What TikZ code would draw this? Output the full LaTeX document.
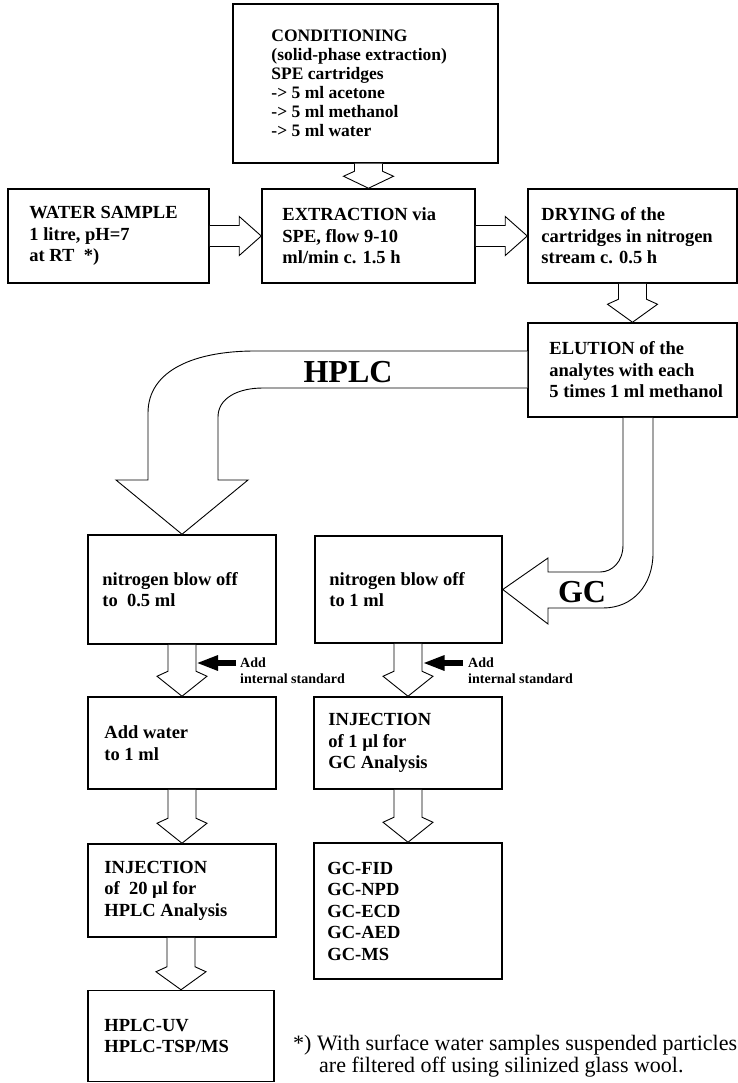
\documentclass[tikz,border=0pt]{standalone}
\usepackage{fontspec}
\setmainfont{Liberation Serif}
\usetikzlibrary{calc,arrows.meta}
\newcommand\blkdown[3][20]{\draw[blk] let \p1=(#2.south), \p2=(#3.north) in
  (\x2-14pt,\y1) -- (\x2-14pt,\y2+#1pt+5pt) -- (\x2-25pt,\y2+#1pt) -- (\x2,\y2)
  -- (\x2+25pt,\y2+#1pt) -- (\x2+14pt,\y2+#1pt+5pt) -- (\x2+14pt,\y1);}
\newcommand\blkright[2]{\draw[blk] let \p1=(#1.east), \p2=(#2.west) in
  (\x1,\y2+10.5pt) -- (\x2-22pt,\y2+10.5pt) -- (\x2-22pt,\y2+19.5pt) -- (\x2,\y2)
  -- (\x2-22pt,\y2-19.5pt) -- (\x2-22pt,\y2-10.5pt) -- (\x1,\y2-10.5pt);}
\begin{document}
\begin{tikzpicture}[x=1pt,y=-1pt,
  box/.style={draw, line width=1.5pt, inner sep=0pt},
  txt/.style={align=left, inner sep=0pt, anchor=west, font=\bfseries\fontsize{18.5}{21.5}\selectfont},
  ctxt/.style={txt, font=\bfseries\fontsize{17.5}{19}\selectfont},
  blk/.style={draw, fill=white, line width=0.9pt, line join=miter},
  big/.style={inner sep=0pt, font=\bfseries\fontsize{32}{32}\selectfont},
  addt/.style={align=left, inner sep=0pt, anchor=base west, font=\bfseries\fontsize{14}{16}\selectfont},
  addarr/.style={line width=6pt, -{Triangle[length=22pt,width=14pt]}},
  ]
\useasboundingbox (0,0) rectangle (738,1083);

% boxes
\node[box, minimum width=265pt, minimum height=159pt] (cond) at (365.5,83.5) {};
\node[box, minimum width=201pt, minimum height=94pt] (water) at (108.5,236) {};
\node[box, minimum width=213pt, minimum height=94pt] (ext) at (368.5,236) {};
\node[box, minimum width=209pt, minimum height=94pt] (dry) at (632.5,236) {};
\node[box, minimum width=209pt, minimum height=94pt] (elu) at (632.5,370) {};
\node[box, minimum width=188pt, minimum height=109pt] (lb) at (182,589.5) {};
\node[box, minimum width=187pt, minimum height=107pt] (rb) at (408.5,589.5) {};
\node[box, minimum width=188pt, minimum height=92pt] (addw) at (182,743) {};
\node[box, minimum width=188pt, minimum height=92pt] (gcinj) at (408,743) {};
\node[box, minimum width=188pt, minimum height=93pt] (hinj) at (182,890.5) {};
\node[box, minimum width=188pt, minimum height=136pt] (gcfid) at (408,911) {};
\node[box, minimum width=186pt, minimum height=91pt] (huv) at (181,1036) {};

% texts
\node[ctxt] (condt) at ([xshift=39pt]cond.west) {CONDITIONING\\(solid-phase extraction)\\SPE cartridges\\-> 5 ml acetone\\-> 5 ml methanol\\-> 5 ml water};
\node[txt] (watert) at ([xshift=22pt]water.west) {WATER SAMPLE\\1 litre, pH=7\\at RT\ \ *)};
\node[txt] (extt) at ([xshift=21pt]ext.west) {EXTRACTION via\\SPE, flow 9-10\\ml/min c. 1.5 h};
\node[txt] (dryt) at ([xshift=14pt]dry.west) {DRYING of the\\cartridges in nitrogen\\stream c. 0.5 h};
\node[txt] (elut) at ([xshift=22pt]elu.west) {ELUTION of the\\analytes with each\\5 times 1 ml methanol};
\node[txt] (lbt) at ([xshift=15pt]lb.west) {nitrogen blow off\\to\ \ 0.5 ml};
\node[txt] (rbt) at ([xshift=15pt]rb.west) {nitrogen blow off\\to 1 ml};
\node[txt] (addwt) at ([xshift=17pt]addw.west) {Add water\\to 1 ml};
\node[txt] (gcinjt) at ([xshift=15pt]gcinj.west) {INJECTION\\of 1 µl for\\GC Analysis};
\node[txt] (hinjt) at ([xshift=17pt]hinj.west) {INJECTION\\of\ \ 20 µl for\\HPLC Analysis};
\node[txt] (gcfidt) at ([xshift=14pt]gcfid.west) {GC-FID\\GC-NPD\\GC-ECD\\GC-AED\\GC-MS};
\node[txt] (huvt) at ([xshift=17pt]huv.west) {HPLC-UV\\HPLC-TSP/MS};

% block arrows
\blkdown[12]{cond}{ext}
\blkright{water}{ext}
\blkright{ext}{dry}
\blkdown[18]{dry}{elu}
\blkdown{lb}{addw}
\blkdown{rb}{gcinj}
\blkdown{addw}{hinj}
\blkdown{gcinj}{gcfid}
\blkdown[18]{hinj}{huv}

% HPLC branch
\draw[blk] ([yshift=19pt]elu.west) -- (255,351) .. controls (195,351) and (148,370) .. (148,413)
  -- (148,480) -- (116,480) -- (lb.north) -- (248,480) -- (218,480) -- (218,417)
  .. controls (218,398) and (238,388) .. (263,388) -- ([yshift=-18pt]elu.west);
\node[big] (hplc) at (348,372) {HPLC};

% GC branch
\draw[blk] ([xshift=-9.5pt]elu.south) -- (623,545) .. controls (623,562) and (612,572) .. (600,572)
  -- (548,572) -- (548,558) -- (rb.east) -- (548,624) -- (548,608) -- (603,608)
  .. controls (633,608) and (653,585) .. (653,553) -- ([xshift=20.5pt]elu.south);
\node[big] (gc) at (582,592) {GC};

% add internal standard
\coordinate (hS) at (236,663);
\coordinate (hT) at (196,663);
\coordinate (gS) at (463,663);
\coordinate (gT) at (422.5,663);
\draw[addarr] (hS) -- (hT);
\draw[addarr] (gS) -- (gT);
\node[addt] (hadd) at (240,683.5) {Add\\internal standard};
\node[addt] (gadd) at (468,683.5) {Add\\internal standard};

% footnote
\node[anchor=base west, align=left, inner sep=0pt, font=\fontsize{22}{20}\selectfont] (fn) at (293,1072)
  {*) With surface water samples suspended particles\\\hspace*{26pt}are filtered off using silinized glass wool.};
\end{tikzpicture}
\end{document}
